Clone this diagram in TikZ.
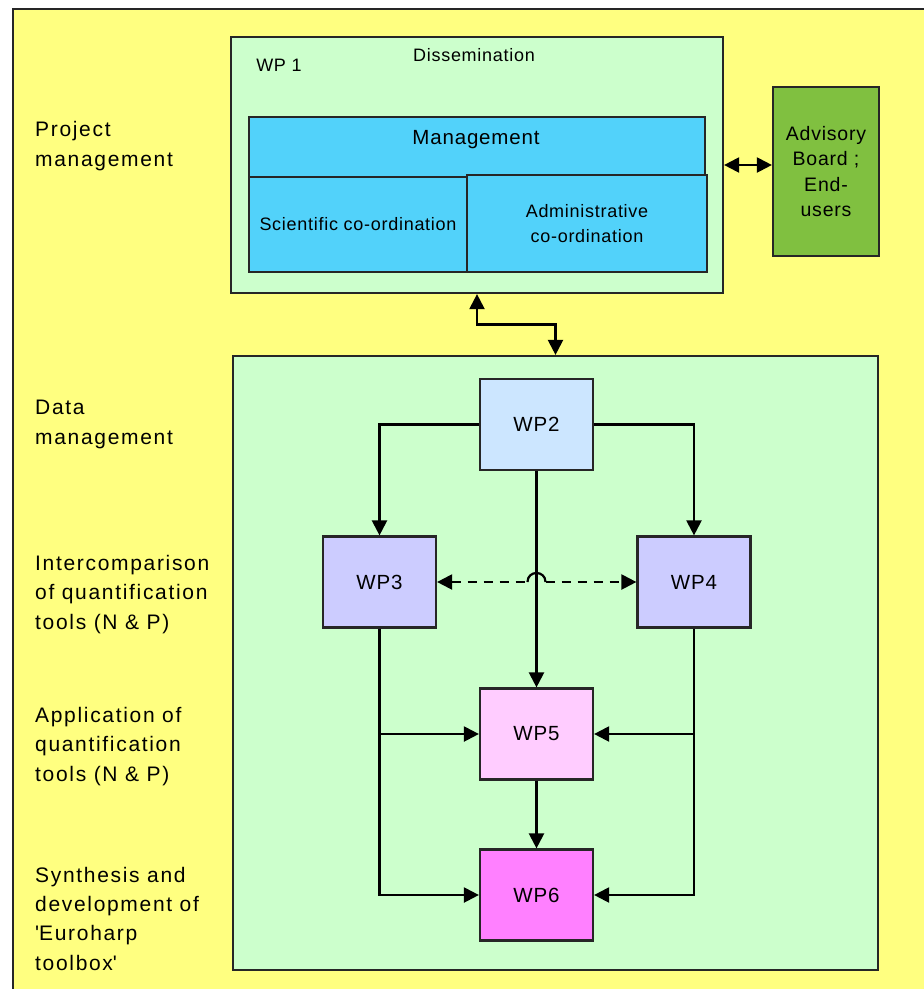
\documentclass[tikz,border=0pt]{standalone}
\usepackage{fontspec}
\setmainfont{Liberation Sans}[LetterSpace=4]
\newfontfamily\widesans{Liberation Sans}[LetterSpace=8]
\usetikzlibrary{calc}
\usetikzlibrary{arrows.meta}
\definecolor{bgyellow}{HTML}{FFFF80}
\definecolor{panelgreen}{HTML}{CCFFCC}
\definecolor{mgmtblue}{HTML}{52D2FA}
\definecolor{advgreen}{HTML}{80C040}
\definecolor{wptwocol}{HTML}{CCE6FF}
\definecolor{wpmidcol}{HTML}{CCCCFF}
\definecolor{wpfivecol}{HTML}{FFCCFF}
\definecolor{wpsixcol}{HTML}{FF80FF}

\begin{document}
\begin{tikzpicture}[
		x=1pt, y=-1pt,
		>={Triangle[length=15pt,width=15pt]},
		edged/.style={draw=black!85, line width=2.2pt},
		panel/.style={edged, fill=panelgreen, inner sep=0pt},
		subbox/.style={edged, fill=mgmtblue, inner sep=0pt, align=center,
			font=\fontsize{18}{25}\selectfont},
		wpbox/.style={edged, minimum width=113pt, minimum height=91pt, inner sep=0pt,
			font=\fontsize{20.5}{24}\selectfont},
		sidetext/.style={anchor=base west, align=left, inner sep=0pt,
			font=\widesans\fontsize{21}{29.3}\selectfont},
		smalltext/.style={inner sep=0pt, font=\fontsize{18}{22}\selectfont},
		link/.style={->, line width=2.2pt},
	]
	\useasboundingbox (0,0) rectangle (924,989);
	\draw[edged, fill=bgyellow] (13,9) rectangle (960,1020);

	% side labels (anchored at the last baseline)
	\node[sidetext] (lproject) at (35,166) {Project\\management};
	\node[sidetext] (ldata) at (35,444) {Data\\management};
	\node[sidetext] (linter) at (35,629) {Intercomparison\\of quantification\\tools (N \& P)};
	\node[sidetext] (lapply) at (35,781) {Application of\\quantification\\tools (N \& P)};
	\node[sidetext] (lsynth) at (35,970) {Synthesis and\\development of\\\textquotesingle Euroharp\\toolbox\textquotesingle};

	% WP1
	\node[panel, minimum width=492pt, minimum height=256pt] (wpone) at (477,165) {};
	\node[smalltext] (wponetag) at (279,65) {WP 1};
	\node[smalltext] (dissem) at (474,55) {Dissemination};
	\node[subbox, minimum width=218pt, minimum height=95pt] (scient) at (358,224.5) {Scientific co-ordination};
	\node[subbox, minimum width=456pt, minimum height=60pt] (mgmt) at (477,147) {};
	\node[smalltext, font=\fontsize{20.5}{24}\selectfont] (mgmttext) at (476,140) {Management};
	\node[subbox, minimum width=240pt, minimum height=97pt] (admin) at (587,223.5) {Administrative\\co-ordination};
	\node[edged, fill=advgreen, minimum width=106pt, minimum height=169pt, inner sep=0pt,
		align=center, font=\fontsize{19.5}{25.3}\selectfont] (advisory) at (826,171.5) {Advisory\\Board ;\\End-\\users};

	% lower panel
	\node[panel, minimum width=645pt, minimum height=614pt] (lower) at (555.5,663) {};
	\node[wpbox, fill=wptwocol] (wptwo) at (536.5,424.5) {WP2};
	\node[wpbox, fill=wpmidcol] (wpthree) at (379.5,582) {WP3};
	\node[wpbox, fill=wpmidcol] (wpfour) at (694,582) {WP4};
	\node[wpbox, fill=wpfivecol] (wpfive) at (536.5,734) {WP5};
	\node[wpbox, fill=wpsixcol] (wpsix) at (536.5,895) {WP6};

	\draw[link, <->] (wpone.east) -- (wpone.east -| advisory.west);
	\draw[link, <->] (wpone.south) |- ($(wpone.south)!0.5!(lower.north)$) -| (lower.north);

	\draw[link] (wptwo.west) -| (wpthree.north);
	\draw[link] (wptwo.east) -| (wpfour.north);
	\draw[link] (wptwo.south) -- (wpfive.north);
	\draw[link] (wpfive.south) -- (wpsix.north);
	\draw[link] (wpthree.south) |- (wpsix.west);
	\draw[link] (wpfour.south) |- (wpsix.east);
	\draw[link] (wpthree.south |- wpfive.west) -- (wpfive.west);
	\draw[link] (wpfour.south |- wpfive.east) -- (wpfive.east);

	\coordinate (hopl) at ($(wptwo.south |- wpthree.east)+(-9,0)$);
	\coordinate (hopr) at ($(wptwo.south |- wpthree.east)+(9,0)$);
	\draw[link, <-, dash pattern=on 9pt off 7pt] (wpthree.east) -- (hopl);
	\draw[line width=2.2pt] (hopl) .. controls ($(hopl)+(0,-12)$) and ($(hopr)+(0,-12)$) .. (hopr);
	\draw[link, dash pattern=on 9pt off 7pt] (hopr) -- (wpfour.west);
\end{tikzpicture}
\end{document}
